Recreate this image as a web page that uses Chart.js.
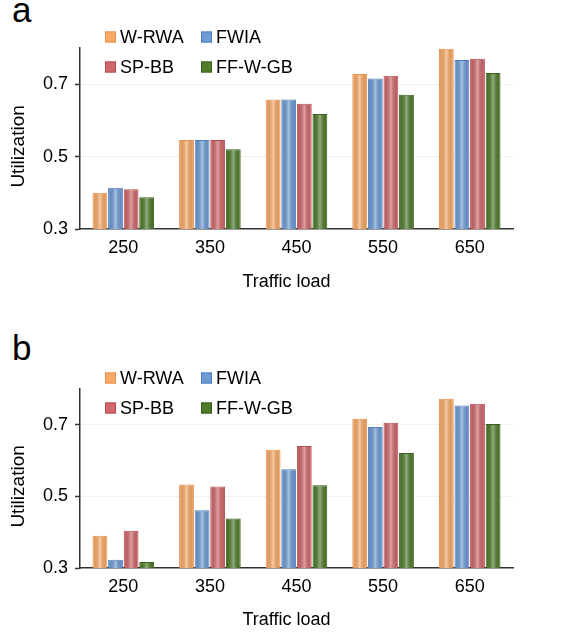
<!DOCTYPE html>
<html>
<head>
<meta charset="utf-8">
<script src="https://cdn.jsdelivr.net/npm/chart.js@4.4.1/dist/chart.umd.min.js"></script>
<style>
  body { margin: 0; background: #fff; }
  #wrap { position: relative; width: 565px; height: 635px; font-family: "Liberation Sans", Arial, sans-serif; }
  canvas { position: absolute; left: 0; }
  .tag { position: absolute; left: 12px; font-size: 35px; line-height: 35px; color: #000; }
</style>
</head>
<body>
<div id="wrap">
  <div class="tag" style="top:-8px">a</div>
  <canvas id="chartA" width="565" height="300" style="top:0"></canvas>
  <div class="tag" style="top:330px">b</div>
  <canvas id="chartB" width="565" height="317" style="top:318px"></canvas>
</div>
<script>
const loads = ["250", "350", "450", "550", "650"];
const seriesNames = ["W-RWA", "FWIA", "SP-BB", "FF-W-GB"];

// panel a
const aWRWA = [0.400, 0.546, 0.658, 0.728, 0.798];
const aFWIA = [0.414, 0.546, 0.658, 0.716, 0.767];
const aSPBB = [0.410, 0.546, 0.646, 0.723, 0.770];
const aFFWGB = [0.388, 0.520, 0.618, 0.671, 0.731];

// panel b
const bWRWA = [0.390, 0.533, 0.630, 0.717, 0.773];
const bFWIA = [0.323, 0.461, 0.576, 0.694, 0.754];
const bSPBB = [0.404, 0.528, 0.641, 0.706, 0.759];
const bFFWGB = [0.317, 0.438, 0.531, 0.621, 0.702];

const yMin = 0.3, yMax = 0.8;
const yTicks = [0.3, 0.5, 0.7];

const fills = ["#f9aa66", "#6e9bd5", "#d0676b", "#4f7b2b"];
const edges = ["#e8914a", "#4f7fbd", "#b44c51", "#3a5e1c"];

const FONT = "'Liberation Sans', Arial, sans-serif";

// soft highlight stripe down the middle of each bar
const shine = {
  id: "shine",
  afterDatasetsDraw(chart) {
    const ctx = chart.ctx, area = chart.chartArea;
    ctx.save();
    ctx.beginPath();
    ctx.rect(area.left, area.top, area.right - area.left, area.bottom - area.top);
    ctx.clip();
    chart.data.datasets.forEach((ds, i) => {
      chart.getDatasetMeta(i).data.forEach(bar => {
        const l = bar.x - bar.width / 2 + 1, w = bar.width - 2;
        const bottom = Math.min(bar.base, area.bottom);
        const g = ctx.createLinearGradient(l, 0, l + w, 0);
        g.addColorStop(0, "rgba(0,0,0,0.06)");
        g.addColorStop(0.5, "rgba(255,255,255,0.38)");
        g.addColorStop(1, "rgba(0,0,0,0.06)");
        ctx.fillStyle = g;
        ctx.fillRect(l, bar.y + 1, w, bottom - bar.y - 1);
      });
    });
    ctx.restore();
  }
};

// 2x2 legend inside the plot
const gridLegend = {
  id: "gridLegend",
  afterDraw(chart) {
    const ctx = chart.ctx, a = chart.chartArea;
    const cols = [a.left + 25, a.left + 121];
    const rows = [a.top - 11, a.top + 19];
    ctx.save();
    ctx.font = "18px " + FONT;
    ctx.textBaseline = "middle";
    chart.data.datasets.forEach((ds, i) => {
      const x = cols[i % 2], y = rows[Math.floor(i / 2)];
      ctx.fillStyle = ds.backgroundColor;
      ctx.fillRect(x, y - 5.5, 11, 11);
      ctx.strokeStyle = ds.borderColor;
      ctx.lineWidth = 1;
      ctx.strokeRect(x + 0.5, y - 5, 10, 10);
      ctx.fillStyle = "#000";
      ctx.fillText(ds.label, x + 15, y + 1);
    });
    ctx.restore();
  }
};

function makeChart(id, values, padTop, xHeight, titlePad) {
  new Chart(document.getElementById(id), {
    type: "bar",
    data: {
      labels: loads,
      datasets: values.map((v, i) => ({
        label: seriesNames[i],
        data: v,
        backgroundColor: fills[i],
        borderColor: edges[i],
        borderWidth: 1,
        categoryPercentage: 0.72,
        barPercentage: 0.95,
      })),
    },
    options: {
      responsive: false,
      animation: false,
      layout: { padding: { top: padTop, right: 52, left: 0, bottom: 0 } },
      plugins: { legend: { display: false }, tooltip: { enabled: false } },
      scales: {
        x: {
          grid: { display: false, drawTicks: false },
          border: { color: "#333", width: 1.5 },
          ticks: { color: "#000", padding: 8, font: { size: 18, family: FONT } },
          // trailing spaces nudge the centred title a little to the left, as in the original
          title: { display: true, text: "Traffic load\u00a0\u00a0\u00a0\u00a0", color: "#000", padding: { top: 0, bottom: titlePad }, font: { size: 18, family: FONT } },
          afterFit: s => { s.height = xHeight; },
        },
        y: {
          min: yMin,
          max: yMax,
          afterBuildTicks: s => { s.ticks = yTicks.map(v => ({ value: v })); },
          grid: {
            color: c => (c.tick && c.tick.value === yMin ? "rgba(0,0,0,0)" : "#e4e4e4"),
            tickColor: "#333",
            tickLength: 5,
            tickWidth: 1.5,
            tickBorderDash: [],
          },
          border: { color: "#333", width: 1.5, dash: [2, 2] },
          ticks: { color: "#000", padding: 7, font: { size: 18, family: FONT } },
          title: { display: true, text: "Utilization\u00a0\u00a0\u00a0", color: "#000", padding: { top: 7, bottom: 0 }, font: { size: 19, family: FONT } },
          afterFit: s => { s.width = 80; },
        },
      },
    },
    plugins: [shine, gridLegend],
  });
}

makeChart("chartA", [aWRWA, aFWIA, aSPBB, aFFWGB], 48, 71, 7);
makeChart("chartB", [bWRWA, bFWIA, bSPBB, bFFWGB], 71, 67, 4);
</script>
</body>
</html>
